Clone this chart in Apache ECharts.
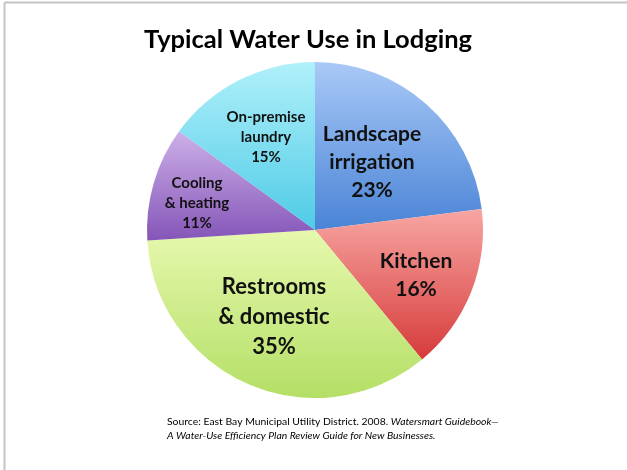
<!DOCTYPE html>
<html>
<head>
<meta charset="utf-8">
<title>Typical Water Use in Lodging</title>
<script src="https://cdn.jsdelivr.net/npm/echarts@6/dist/echarts.min.js"></script>
<style>
  html, body { margin: 0; padding: 0; background: #ffffff; }
  #chart { width: 627px; height: 470px; }
</style>
</head>
<body>
<div id="chart"></div>
<script>
// Share of water use by end use (percent)
const categories = [
  'Landscape\nirrigation',
  'Kitchen',
  'Restrooms\n& domestic',
  'Cooling\n& heating',
  'On-premise\nlaundry'
];
const shares = [23, 16, 35, 11, 15];

const titleText = 'Typical Water Use in Lodging';
const sourceLine1 = 'Source: East Bay Municipal Utility District. 2008. ';
const sourceBook1 = 'Watersmart Guidebook\u2014';
const sourceBook2 = 'A Water-Use Efficiency Plan Review Guide for New Businesses.';

// Per-slice styling: gradient stops (top -> bottom), label size and label anchor
const sliceStyles = [
  { top: '#a9c9f7', bottom: '#4a84d6', fontSize: 21, anchor: [372, 162] },
  { top: '#f7a6a2', bottom: '#d63b3b', fontSize: 21, anchor: [416, 275] },
  { top: '#e6f8ad', bottom: '#b4df66', fontSize: 22, anchor: [274, 317] },
  { top: '#cdb0e8', bottom: '#8455b8', fontSize: 15, anchor: [197, 203] },
  { top: '#b0f0fa', bottom: '#4fcbe6', fontSize: 15, anchor: [266, 137] }
];

const FONT = 'Lato, "Open Sans", sans-serif';

const chart = echarts.init(document.getElementById('chart'), null, { renderer: 'canvas' });

const pieData = categories.map((name, i) => ({
  name: name,
  value: shares[i],
  itemStyle: {
    color: new echarts.graphic.LinearGradient(0, 0, 0, 1, [
      { offset: 0, color: sliceStyles[i].top },
      { offset: 1, color: sliceStyles[i].bottom }
    ])
  },
  label: { fontSize: sliceStyles[i].fontSize, lineHeight: Math.round(sliceStyles[i].fontSize * 1.35) }
}));

chart.setOption({
  animation: false,
  backgroundColor: '#ffffff',
  title: {
    text: titleText,
    left: 303,
    top: 22,
    textAlign: 'center',
    textStyle: {
      fontFamily: FONT,
      fontSize: 25.5,
      fontWeight: 'bold',
      color: '#000000'
    }
  },
  series: [{
    type: 'pie',
    center: [315, 230],
    radius: [0, 168],
    startAngle: 90,
    clockwise: true,
    silent: true,
    data: pieData,
    itemStyle: { borderWidth: 0 },
    label: {
      show: true,
      position: 'inside',
      formatter: p => p.name + '\n' + p.value + '%',
      fontFamily: FONT,
      fontWeight: 'bold',
      color: '#111111',
      align: 'center'
    },
    labelLine: { show: false },
    labelLayout: p => ({
      x: sliceStyles[p.dataIndex].anchor[0],
      y: sliceStyles[p.dataIndex].anchor[1],
      align: 'center',
      verticalAlign: 'middle'
    }),
    emphasis: { disabled: true }
  }],
  graphic: [
    // frame lines along the top and left edges
    { type: 'line', shape: { x1: 4.5, y1: 2.5, x2: 627, y2: 2.5 }, style: { stroke: '#c4c4c4', lineWidth: 2 }, silent: true },
    { type: 'line', shape: { x1: 4.5, y1: 2.5, x2: 4.5, y2: 470 }, style: { stroke: '#c4c4c4', lineWidth: 2 }, silent: true },
    {
      type: 'text',
      left: 167,
      top: 417,
      silent: true,
      style: {
        text: '{n|' + sourceLine1 + '}{i|' + sourceBook1 + '}\n{i|' + sourceBook2 + '}',
        rich: {
          n: { fontFamily: FONT, fontSize: 10.4, color: '#222222', lineHeight: 14 },
          i: { fontFamily: FONT, fontSize: 10.4, fontStyle: 'italic', color: '#222222', lineHeight: 14 }
        }
      }
    }
  ]
});
</script>
</body>
</html>
